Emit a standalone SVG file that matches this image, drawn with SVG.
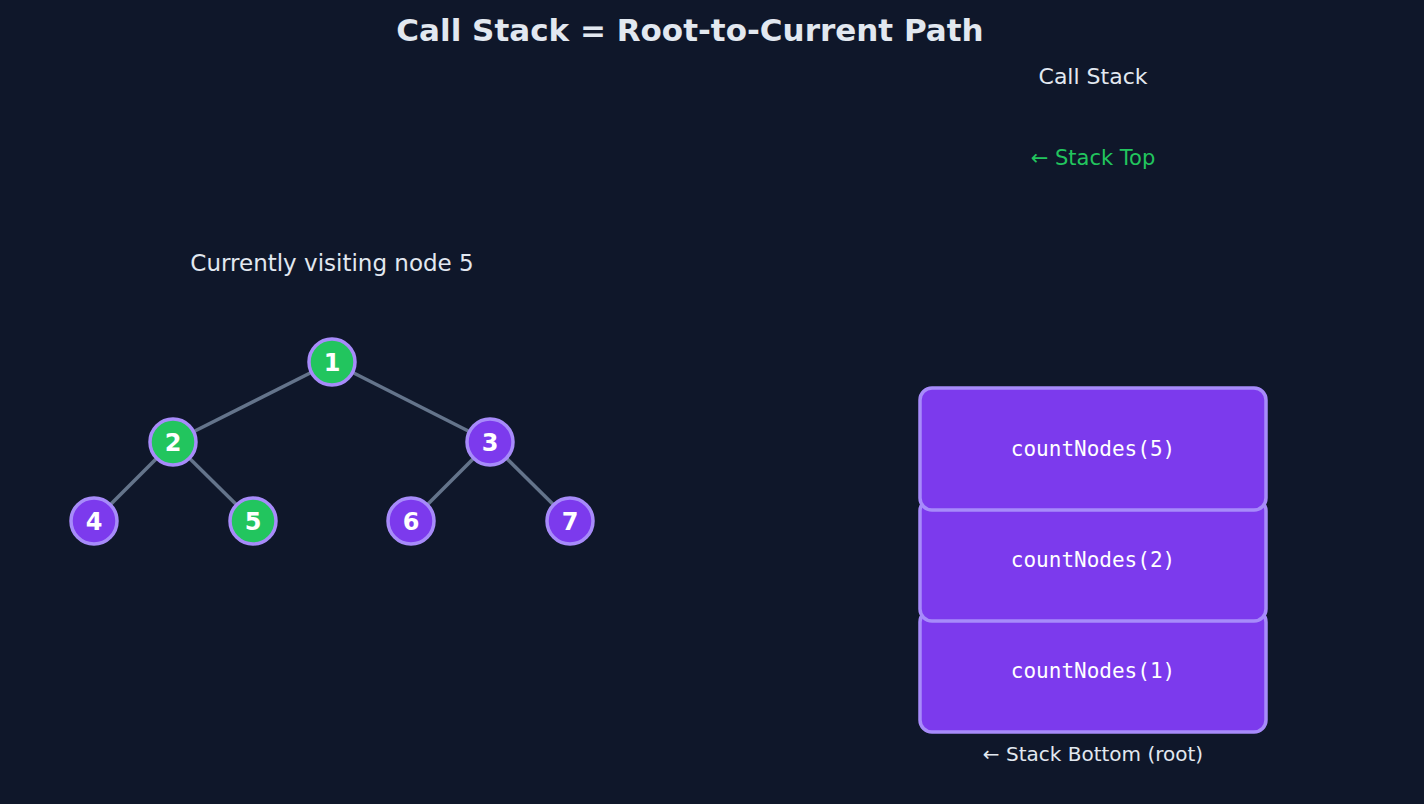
<svg xmlns="http://www.w3.org/2000/svg" width="1424" height="804" viewBox="0 0 1424 804">
<style>
text{font-family:"DejaVu Sans",sans-serif}
.e{stroke:#64748b;stroke-width:3.5}
.n circle{stroke:#a78bfa;stroke-width:3.5}
.g{fill:#22c55e}.p{fill:#7c3aed}
.n text{fill:#fff;font-size:24px;font-weight:bold;text-anchor:middle}
.f rect{fill:#7c3aed;stroke:#a78bfa;stroke-width:3.5}
.f text{fill:#fff;font-family:"DejaVu Sans Mono",monospace;font-size:21px;text-anchor:middle}
</style>
<rect width="1424" height="804" fill="#0f172a"/>
<text x="690" y="41" fill="#e2e8f0" font-size="31" font-weight="bold" text-anchor="middle">Call Stack = Root-to-Current Path</text>
<text x="1093" y="84" fill="#e2e8f0" font-size="22" text-anchor="middle">Call Stack</text>
<text x="1093" y="165" fill="#22c55e" font-size="21" text-anchor="middle">← Stack Top</text>
<text x="332" y="271" fill="#e2e8f0" font-size="23" text-anchor="middle">Currently visiting node 5</text>
<g id="edges">
<line class="e" x1="332" y1="362" x2="173" y2="442"/>
<line class="e" x1="332" y1="362" x2="490" y2="442"/>
<line class="e" x1="173" y1="442" x2="94" y2="521"/>
<line class="e" x1="173" y1="442" x2="253" y2="521"/>
<line class="e" x1="490" y1="442" x2="411" y2="521"/>
<line class="e" x1="490" y1="442" x2="570" y2="521"/>
</g>
<g id="n1" class="n"><circle class="g" cx="332" cy="362" r="23"/><text x="332" y="371">1</text></g>
<g id="n2" class="n"><circle class="g" cx="173" cy="442" r="23"/><text x="173" y="451">2</text></g>
<g id="n3" class="n"><circle class="p" cx="490" cy="442" r="23"/><text x="490" y="451">3</text></g>
<g id="n4" class="n"><circle class="p" cx="94" cy="521" r="23"/><text x="94" y="530">4</text></g>
<g id="n5" class="n"><circle class="g" cx="253" cy="521" r="23"/><text x="253" y="530">5</text></g>
<g id="n6" class="n"><circle class="p" cx="411" cy="521" r="23"/><text x="411" y="530">6</text></g>
<g id="n7" class="n"><circle class="p" cx="570" cy="521" r="23"/><text x="570" y="530">7</text></g>
<g id="f1" class="f"><rect x="920" y="610" width="346" height="122" rx="12"/><text x="1093" y="678">countNodes(1)</text></g>
<g id="f2" class="f"><rect x="920" y="499" width="346" height="122" rx="12"/><text x="1093" y="567">countNodes(2)</text></g>
<g id="f5" class="f"><rect x="920" y="388" width="346" height="122" rx="12"/><text x="1093" y="456">countNodes(5)</text></g>
<text x="1093" y="761" fill="#e2e8f0" font-size="20" text-anchor="middle">← Stack Bottom (root)</text>
</svg>
